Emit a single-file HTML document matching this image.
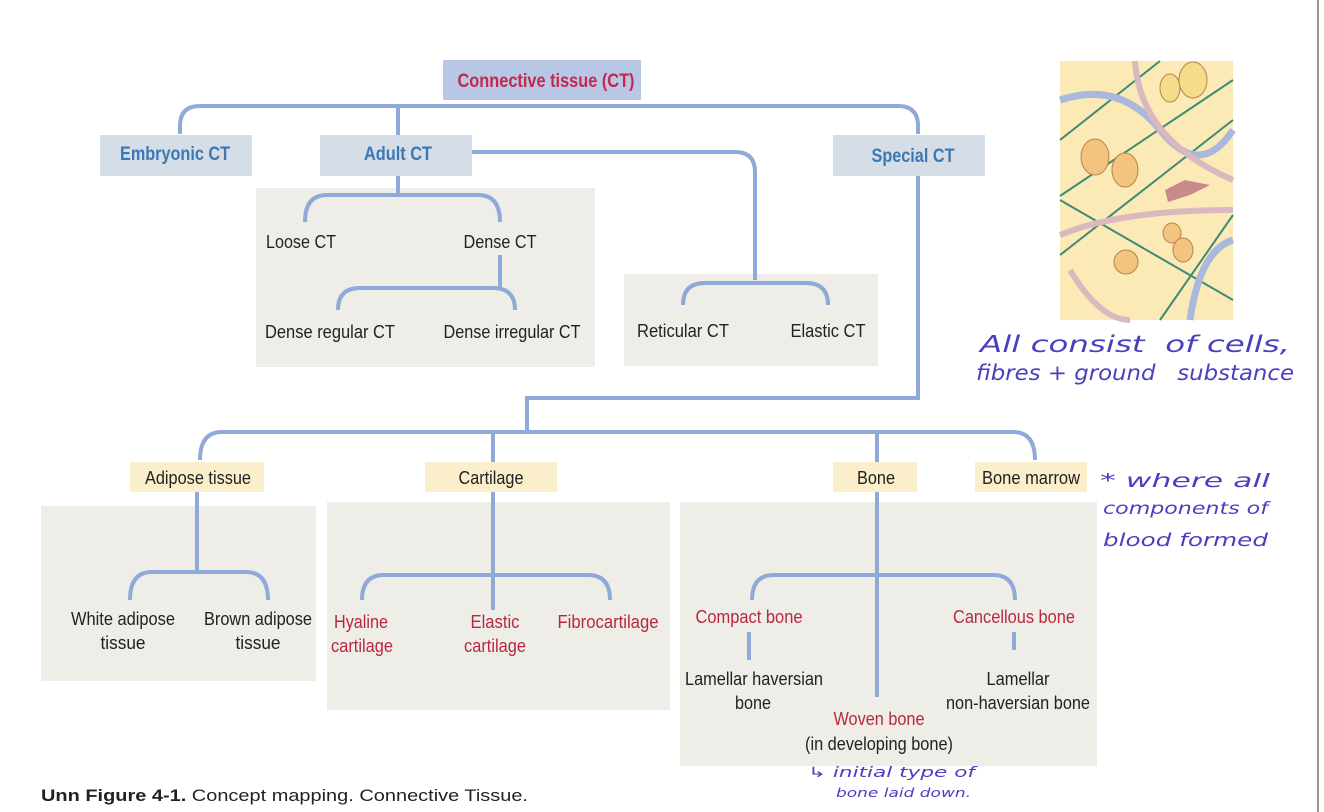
<!DOCTYPE html>
<html><head><meta charset="utf-8"><style>
html,body{margin:0;padding:0;background:#fff;}
svg{display:block;}
.t{font-family:"Liberation Sans",sans-serif;font-size:18px;fill:#222;text-anchor:middle;}
.h{font-family:"Liberation Sans",sans-serif;font-size:19px;font-weight:bold;fill:#3b78b6;text-anchor:middle;}
.r{fill:#b8283f;}
.hw{font-family:"DejaVu Sans",sans-serif;fill:#4a3fc0;font-style:italic;}
</style></head><body>
<svg width="1324" height="812" viewBox="0 0 1324 812">
<line x1="1318" y1="0" x2="1318" y2="812" stroke="#999" stroke-width="2"/>
<rect x="256" y="188" width="339" height="179" fill="#efede8"/>
<rect x="624" y="274" width="254" height="92" fill="#efede8"/>
<rect x="41" y="506" width="275" height="175" fill="#efede8"/>
<rect x="327" y="502" width="343" height="208" fill="#efede8"/>
<rect x="680" y="502" width="417" height="264" fill="#efede8"/>
<g fill="none" stroke="#8fa9d8" stroke-width="4">
<path d="M180 134 V126 Q180 106 200 106 H898 Q918 106 918 126 V134"/>
<path d="M398 106 V135"/>
<path d="M472 152 H735 Q755 152 755 172 V280"/>
<path d="M683 305 Q683 283 705 283 H806 Q828 283 828 305"/>
<path d="M398 176 V195"/>
<path d="M305 222 Q305 195 327 195 H478 Q500 195 500 222"/>
<path d="M500 255 V288"/>
<path d="M338 310 Q338 288 360 288 H493 Q515 288 515 310"/>
<path d="M918 176 V398 H527 V432"/>
<path d="M200 460 Q200 432 222 432 H1013 Q1035 432 1035 460"/>
<path d="M493 432 V462 M877 432 V462"/>
<path d="M197 492 V572"/>
<path d="M130 600 Q130 572 152 572 H246 Q268 572 268 600"/>
<path d="M493 492 V610"/>
<path d="M362 600 Q362 575 384 575 H588 Q610 575 610 600"/>
<path d="M877 492 V697"/>
<path d="M752 600 Q752 575 774 575 H993 Q1015 575 1015 600"/>
<path d="M749 632 V660 M1014 632 V650"/>
</g>
<rect x="443" y="60" width="198" height="40" fill="#b9c7e7"/>
<text x="546" y="87" class="h" style="fill:#c5284a" textLength="177" lengthAdjust="spacingAndGlyphs">Connective tissue (CT)</text>
<rect x="100" y="135" width="152" height="41" fill="#d5dde6"/>
<text x="175" y="160" class="h" textLength="110" lengthAdjust="spacingAndGlyphs">Embryonic CT</text>
<rect x="320" y="135" width="152" height="41" fill="#d5dde6"/>
<text x="398" y="160" class="h" textLength="68" lengthAdjust="spacingAndGlyphs">Adult CT</text>
<rect x="833" y="135" width="152" height="41" fill="#d5dde6"/>
<text x="913" y="162" class="h" textLength="83" lengthAdjust="spacingAndGlyphs">Special CT</text>
<text x="301" y="248" class="t" textLength="70" lengthAdjust="spacingAndGlyphs">Loose CT</text>
<text x="500" y="248" class="t" textLength="73" lengthAdjust="spacingAndGlyphs">Dense CT</text>
<text x="330" y="338" class="t" textLength="130" lengthAdjust="spacingAndGlyphs">Dense regular CT</text>
<text x="512" y="338" class="t" textLength="137" lengthAdjust="spacingAndGlyphs">Dense irregular CT</text>
<text x="683" y="337" class="t" textLength="92" lengthAdjust="spacingAndGlyphs">Reticular CT</text>
<text x="828" y="337" class="t" textLength="75" lengthAdjust="spacingAndGlyphs">Elastic CT</text>
<rect x="130" y="462" width="134" height="30" fill="#fbeecb"/>
<text x="198" y="484" class="t" textLength="106" lengthAdjust="spacingAndGlyphs">Adipose tissue</text>
<rect x="425" y="462" width="132" height="30" fill="#fbeecb"/>
<text x="491" y="484" class="t" textLength="65" lengthAdjust="spacingAndGlyphs">Cartilage</text>
<rect x="833" y="462" width="84" height="30" fill="#fbeecb"/>
<text x="876" y="484" class="t" textLength="38" lengthAdjust="spacingAndGlyphs">Bone</text>
<rect x="975" y="462" width="112" height="30" fill="#fbeecb"/>
<text x="1031" y="484" class="t" textLength="98" lengthAdjust="spacingAndGlyphs">Bone marrow</text>
<text x="123" y="625" class="t" textLength="104" lengthAdjust="spacingAndGlyphs">White adipose</text>
<text x="123" y="649" class="t" textLength="45" lengthAdjust="spacingAndGlyphs">tissue</text>
<text x="258" y="625" class="t" textLength="108" lengthAdjust="spacingAndGlyphs">Brown adipose</text>
<text x="258" y="649" class="t" textLength="45" lengthAdjust="spacingAndGlyphs">tissue</text>
<text x="361" y="628" class="t r" textLength="54" lengthAdjust="spacingAndGlyphs">Hyaline</text>
<text x="362" y="652" class="t r" textLength="62" lengthAdjust="spacingAndGlyphs">cartilage</text>
<text x="495" y="628" class="t r" textLength="49" lengthAdjust="spacingAndGlyphs">Elastic</text>
<text x="495" y="652" class="t r" textLength="62" lengthAdjust="spacingAndGlyphs">cartilage</text>
<text x="608" y="628" class="t r" textLength="101" lengthAdjust="spacingAndGlyphs">Fibrocartilage</text>
<text x="749" y="623" class="t r" textLength="107" lengthAdjust="spacingAndGlyphs">Compact bone</text>
<text x="1014" y="623" class="t r" textLength="122" lengthAdjust="spacingAndGlyphs">Cancellous bone</text>
<text x="754" y="685" class="t" textLength="138" lengthAdjust="spacingAndGlyphs">Lamellar haversian</text>
<text x="753" y="709" class="t" textLength="36" lengthAdjust="spacingAndGlyphs">bone</text>
<text x="1018" y="685" class="t" textLength="63" lengthAdjust="spacingAndGlyphs">Lamellar</text>
<text x="1018" y="709" class="t" textLength="144" lengthAdjust="spacingAndGlyphs">non-haversian bone</text>
<text x="879" y="725" class="t r" textLength="91" lengthAdjust="spacingAndGlyphs">Woven bone</text>
<text x="879" y="750" class="t" textLength="148" lengthAdjust="spacingAndGlyphs">(in developing bone)</text>
<text x="41" y="801" style="font-family:'Liberation Sans',sans-serif;font-size:17px;fill:#222" textLength="487" lengthAdjust="spacingAndGlyphs"><tspan font-weight="bold">Unn Figure 4-1.</tspan> Concept mapping. Connective Tissue.</text>
<rect x="1060" y="61" width="173" height="259" fill="#fbeab5"/>
<g fill="none" stroke-width="2" stroke="#3f8a78">
<line x1="1060" y1="140" x2="1160" y2="61"/><line x1="1060" y1="196" x2="1233" y2="80"/>
<line x1="1060" y1="255" x2="1233" y2="120"/><line x1="1060" y1="200" x2="1233" y2="300"/>
<line x1="1160" y1="320" x2="1233" y2="215"/>
</g>
<g fill="none" stroke-width="7" stroke="#a9b8dc">
<path d="M1060 100 Q1120 80 1160 130 T1233 130"/><path d="M1190 320 Q1200 250 1233 240"/>
</g>
<g fill="none" stroke-width="6" stroke="#d9b8c0">
<path d="M1135 61 Q1140 140 1233 180"/><path d="M1060 235 Q1120 210 1233 210"/><path d="M1070 270 Q1100 320 1130 320"/>
</g>
<g fill="#f2c47f" stroke="#b8834a"><ellipse cx="1095" cy="157" rx="14" ry="18"/><ellipse cx="1125" cy="170" rx="13" ry="17"/>
<ellipse cx="1172" cy="233" rx="9" ry="10"/><ellipse cx="1183" cy="250" rx="10" ry="12"/><ellipse cx="1126" cy="262" rx="12" ry="12"/></g>
<g fill="#f5dc8a" stroke="#b8834a"><ellipse cx="1170" cy="88" rx="10" ry="14"/><ellipse cx="1193" cy="80" rx="14" ry="18"/></g>
<path d="M1165 190 L1185 180 L1210 185 L1190 195 L1168 202Z" fill="#c98a8a"/>
<text x="980" y="352" class="hw" font-size="23" textLength="310" lengthAdjust="spacingAndGlyphs">All consist&#160;&#160;of cells,</text>
<text x="976" y="380" class="hw" font-size="21" textLength="318" lengthAdjust="spacingAndGlyphs">fibres + ground&#160;&#160;&#160;substance</text>
<text x="1100" y="487" class="hw" font-size="19" textLength="170" lengthAdjust="spacingAndGlyphs">* where all</text>
<text x="1103" y="514" class="hw" font-size="17" textLength="165" lengthAdjust="spacingAndGlyphs">components of</text>
<text x="1103" y="546" class="hw" font-size="18" textLength="165" lengthAdjust="spacingAndGlyphs">blood formed</text>
<text x="808" y="777" class="hw" font-size="14" textLength="167" lengthAdjust="spacingAndGlyphs">↳ initial type of</text>
<text x="836" y="797" class="hw" font-size="12" textLength="135" lengthAdjust="spacingAndGlyphs">bone laid down.</text>
</svg>
</body></html>
